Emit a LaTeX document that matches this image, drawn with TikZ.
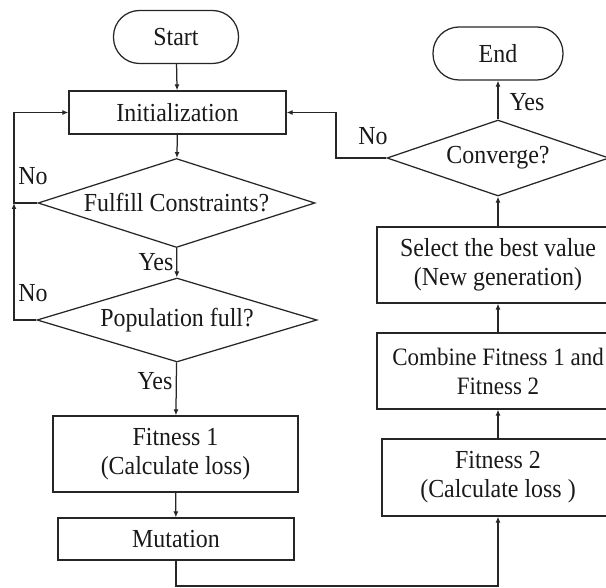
\documentclass[tikz,border=0pt]{standalone}
\usepackage{fontspec}
\setmainfont[FakeStretch=0.92]{Liberation Serif}
\usetikzlibrary{shapes.geometric,arrows.meta}
\begin{document}
\begin{tikzpicture}[x=1pt,y=-1pt,
  every node/.style={font=\fontsize{26}{29}\selectfont, text=black!90},
  line/.style={line width=1.25pt, draw=black!85},
  arr/.style={line, -{Latex[length=6pt,width=5pt]}},
  term/.style={line, rectangle, rounded corners=26pt, inner sep=0pt, minimum width=#1, minimum height=53pt},
  proc/.style={line, rectangle, inner sep=0pt, align=center},
  dec/.style={line, diamond, inner sep=0pt, shape aspect=3.1},
  lbl/.style={inner sep=0pt}
]
\path[use as bounding box, clip] (0,0) rectangle (606,588);

\node[term=125pt] (start) at (176,37) {Start};
\node[proc, minimum width=217pt, minimum height=43pt] (init) at (177.5,112.5) {Initialization};
\node[dec, minimum width=277pt, minimum height=89pt] (d1) at (176.5,203) {Fulfill Constraints?};
\node[dec, minimum width=280pt, minimum height=84pt] (d2) at (177,320) {Population full?};
\node[proc, minimum width=245pt, minimum height=76pt] (fit1) at (175.5,454) {Fitness 1\\(Calculate loss)};
\node[proc, minimum width=236pt, minimum height=42pt] (mut) at (176,539) {Mutation};

\node[proc, minimum width=232pt, minimum height=77pt] (fit2) at (498,477.5) {Fitness 2\\(Calculate loss )};
\node[proc, minimum width=242pt, minimum height=76pt, font=\fontsize{25}{29}\selectfont] (comb) at (498,371) {Combine Fitness 1 and\\Fitness 2};
\node[proc, minimum width=242pt, minimum height=76pt] (sel) at (498,265) {Select the best value\\(New generation)};
\node[dec, minimum width=222pt, minimum height=76pt, shape aspect=2.9] (conv) at (498,158) {Converge?};
\node[term=130pt] (end) at (498,53.5) {End};

\coordinate (l1) at (14,203);
\coordinate (l2) at (14,320);
\coordinate (r1) at (336,158);
\coordinate (b1) at (176,586);

\draw[arr] (start) -- (init);
\draw[arr] (init) -- (d1);
\draw[arr] (d1) -- (d2);
\draw[arr] (d2) -- (fit1);
\draw[arr] (fit1) -- (mut);
\draw[arr] (d1.west) -- (l1) |- (init.west);
\draw[arr] (d2.west) -- (l2) -- (l1);
\draw[arr] (mut.south) -- (b1) -| (fit2.south);
\draw[arr] (fit2) -- (comb);
\draw[arr] (comb) -- (sel);
\draw[arr] (sel) -- (conv);
\draw[arr] (conv) -- (end);
\draw[arr] (conv.west) -- (r1) |- (init.east);

\node[lbl] (no1) at (33,176) {No};
\node[lbl] (no2) at (33,293) {No};
\node[lbl] (no3) at (373,136) {No};
\node[lbl] (yes1) at (156,262) {Yes};
\node[lbl] (yes2) at (155,381) {Yes};
\node[lbl] (yes3) at (527,102) {Yes};
\end{tikzpicture}
\end{document}
